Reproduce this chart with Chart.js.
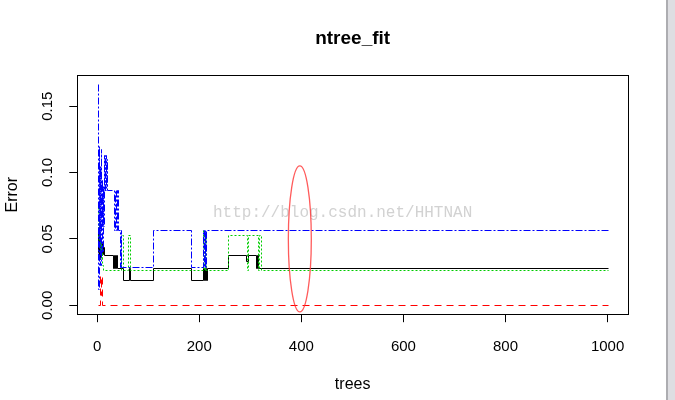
<!DOCTYPE html>
<html>
<head>
<meta charset="utf-8">
<title>ntree_fit</title>
<script src="https://cdn.jsdelivr.net/npm/chart.js@4/dist/chart.umd.min.js"></script>
<style>
    html, body { margin: 0; padding: 0; background: #ffffff; }
    #wrap { position: relative; width: 675px; height: 400px; overflow: hidden; }
    #scrollbar {
        position: absolute; left: 666px; top: 0; width: 7px; height: 400px;
        background: #dedee2; border-left: 2px solid #adadb1;
    }
</style>
</head>
<body>
<div id="wrap">
    <canvas id="error-chart" width="675" height="400"></canvas>
    <div id="scrollbar"></div>
</div>
<script>
// Tick labels
const xTicks = [0, 200, 400, 600, 800, 1000];
const yTicks = [0, 0.05, 0.10, 0.15];

// OOB error (black solid): tree where the value changes, value from there on
const oobTrees = [1, 2, 3, 4, 5, 6, 7, 8, 9, 10, 11, 12, 13, 14, 31, 33, 35, 37, 39, 50, 62, 64, 109, 184, 207, 209, 211, 213, 215, 257, 292, 296, 312, 314, 316, 1000];
const oobErr   = [0.059, 0.040, 0.055, 0.035, 0.050, 0.042, 0.048, 0.038, 0.047, 0.040, 0.045, 0.039, 0.044, 0.038, 0.028, 0.038, 0.028, 0.038, 0.028, 0.019, 0.028, 0.019, 0.028, 0.019, 0.028, 0.019, 0.028, 0.019, 0.028, 0.038, 0.033, 0.038, 0.028, 0.038, 0.028, 0.028];

// Class 1 (red dashed)
const c1Trees = [1, 6, 7, 8, 9, 10, 1000];
const c1Err   = [0, 0.022, 0.008, 0.022, 0.012, 0, 0];

// Class 2 (green dotted)
const c2Trees = [1, 2, 3, 4, 5, 6, 7, 8, 9, 10, 11, 47, 50, 60, 64, 207, 209, 211, 214, 257, 293, 296, 315, 317, 320, 1000];
const c2Err   = [0.077, 0.050, 0.065, 0.045, 0.056, 0.040, 0.050, 0.035, 0.045, 0.030, 0.0265, 0.053, 0.0265, 0.053, 0.0265, 0.057, 0.0265, 0.055, 0.0265, 0.053, 0.0265, 0.053, 0.0265, 0.053, 0.0265, 0.0265];

// Class 3 (blue dash-dot)
const c3Trees = [1, 2, 3, 4, 5, 6, 7, 8, 9, 10, 11, 12, 13, 14, 15, 16, 17, 18, 19, 20, 33, 35, 37, 39, 41, 45, 46, 47, 48, 109, 184, 207, 209, 211, 212, 214, 1000];
const c3Err   = [0.1666, 0.012, 0.120, 0.050, 0.105, 0.030, 0.118, 0.060, 0.095, 0.040, 0.090, 0.060, 0.113, 0.087, 0.113, 0.087, 0.113, 0.090, 0.110, 0.0867, 0.0567, 0.0867, 0.0567, 0.0867, 0.0567, 0.029, 0.0567, 0.029, 0.029, 0.0567, 0.029, 0.0567, 0.029, 0.0567, 0.029, 0.0567, 0.0567];

const FONT = '"Liberation Sans", Arial, sans-serif';

// Build {x, y} points from a trees array and an error array
function toPoints(trees, errs) {
    return trees.map((t, i) => ({ x: t, y: errs[i] }));
}

// Make a stepped series
function makeSeries(label, trees, errs, color, dash, order) {
    return {
        label: label,
        data: toPoints(trees, errs),
        borderColor: color,
        borderWidth: 1,
        borderDash: dash,
        pointRadius: 0,
        stepped: 'before',
        fill: false,
        order: order
    };
}

// Snap the computed points to the pixel grid so 1px lines stay sharp
const crispPlugin = {
    id: 'crisp',
    beforeDatasetDraw(chart, args) {
        args.meta.data.forEach(pt => {
            pt.x = Math.round(pt.x) + 0.5;
            pt.y = Math.round(pt.y) + 0.5;
        });
    }
};

// Watermark behind the lines
const watermarkPlugin = {
    id: 'watermark',
    beforeDatasetsDraw(chart) {
        const ctx = chart.ctx;
        ctx.save();
        ctx.font = '16px "Liberation Mono", monospace';
        ctx.fillStyle = '#d2d2d2';
        ctx.textBaseline = 'alphabetic';
        ctx.fillText('http://blog.csdn.net/HHTNAN', 213, 217);
        ctx.restore();
    }
};

// Box, rotated y tick labels and the red ellipse
const framePlugin = {
    id: 'frame',
    afterDatasetsDraw(chart) {
        const ctx = chart.ctx;
        const xs = chart.scales.x;
        const ys = chart.scales.y;

        // red ellipse around tree 400
        const cx = xs.getPixelForValue(397);
        const rx = xs.getPixelForValue(397 + 22.5) - cx;
        const cy = ys.getPixelForValue(0.05);
        const ry = cy - ys.getPixelForValue(0.105);
        ctx.save();
        ctx.strokeStyle = 'rgba(255, 50, 50, 0.8)';
        ctx.lineWidth = 1.3;
        ctx.beginPath();
        ctx.ellipse(cx, cy, rx, ry, 0, 0, Math.PI * 2);
        ctx.stroke();
        ctx.restore();
    },
    afterDraw(chart) {
        const ctx = chart.ctx;
        const a = chart.chartArea;
        const ys = chart.scales.y;
        ctx.save();
        ctx.strokeStyle = '#000000';
        ctx.lineWidth = 1;
        ctx.strokeRect(Math.round(a.left) + 0.5, Math.round(a.top) + 0.5,
            Math.round(a.right - a.left), Math.round(a.bottom - a.top));

        // y tick labels, rotated like R
        ctx.fillStyle = '#000000';
        ctx.font = '15px ' + FONT;
        ctx.textAlign = 'center';
        ctx.textBaseline = 'middle';
        ys.ticks.forEach(tick => {
            const py = ys.getPixelForValue(tick.value);
            ctx.save();
            ctx.translate(48, py);
            ctx.rotate(-Math.PI / 2);
            ctx.fillText(tick.value.toFixed(2), 0, 0);
            ctx.restore();
        });
        ctx.restore();
    }
};

// Create the error chart
function createErrorChart() {
    const ctx = document.getElementById('error-chart').getContext('2d');

    new Chart(ctx, {
        type: 'line',
        data: {
            datasets: [
                makeSeries('OOB', oobTrees, oobErr, '#000000', [], 4),
                makeSeries('1', c1Trees, c1Err, '#ff0000', [7, 5], 3),
                makeSeries('2', c2Trees, c2Err, '#00cd00', [2, 2], 2),
                makeSeries('3', c3Trees, c3Err, '#0000ff', [7, 2, 2, 2], 1)
            ]
        },
        options: {
            responsive: false,
            animation: false,
            devicePixelRatio: 1,
            layout: { padding: { left: 0, right: 47, top: 0, bottom: 0 } },
            plugins: {
                legend: { display: false },
                tooltip: { enabled: false },
                title: {
                    display: true,
                    text: 'ntree_fit',
                    fullSize: false,
                    color: '#000000',
                    font: { family: FONT, size: 19, weight: 'bold' },
                    padding: { top: 27, bottom: 25.4 }
                }
            },
            scales: {
                x: {
                    type: 'linear',
                    min: -39,
                    max: 1040,
                    afterFit: s => { s.height = 85.8; },
                    afterBuildTicks: s => { s.ticks = xTicks.map(v => ({ value: v })); },
                    border: { display: false },
                    grid: { drawOnChartArea: false, drawTicks: true, tickLength: 8, color: '#000000', lineWidth: 1 },
                    ticks: {
                        color: '#000000',
                        font: { family: FONT, size: 15 },
                        padding: 16,
                        maxRotation: 0,
                        autoSkip: false,
                        callback: v => String(v)
                    },
                    title: {
                        display: true,
                        text: 'trees',
                        color: '#000000',
                        font: { family: FONT, size: 16 },
                        padding: { top: 0, bottom: 5.4 }
                    }
                },
                y: {
                    type: 'linear',
                    min: -0.0067,
                    max: 0.1733,
                    afterFit: s => { s.width = 77.3; },
                    afterBuildTicks: s => { s.ticks = yTicks.map(v => ({ value: v })); },
                    border: { display: false },
                    grid: { drawOnChartArea: false, drawTicks: true, tickLength: 8, color: '#000000', lineWidth: 1 },
                    ticks: { display: false },
                    title: {
                        display: true,
                        text: 'Error',
                        color: '#000000',
                        font: { family: FONT, size: 16 },
                        padding: { top: 3.4, bottom: 0 }
                    }
                }
            }
        },
        plugins: [crispPlugin, watermarkPlugin, framePlugin]
    });
}

document.addEventListener('DOMContentLoaded', function() {
    createErrorChart();
});
</script>
</body>
</html>
